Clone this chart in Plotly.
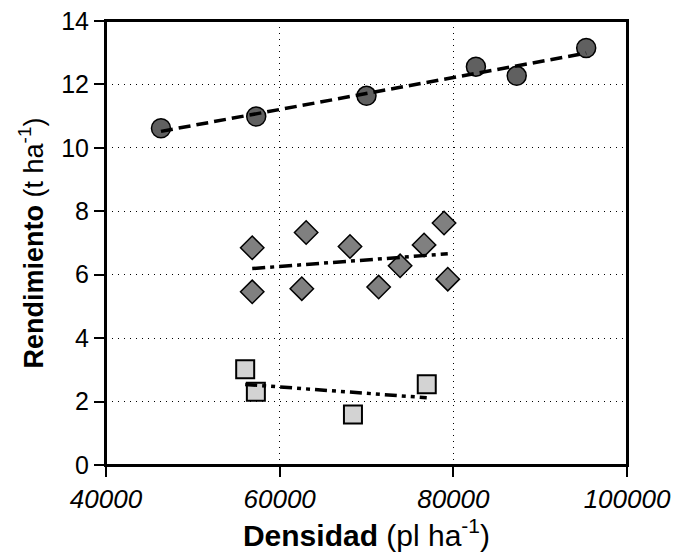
import numpy as np
import plotly.graph_objects as go

# Data
circ_x = [46330, 57300, 70000, 82600, 87300, 95300]
circ_y = [10.62, 10.99, 11.64, 12.56, 12.27, 13.15]

diam_x = [56840, 63050, 56840, 62550, 68100, 78930, 76630, 73870, 71400, 79360]
diam_y = [6.85, 7.33, 5.46, 5.56, 6.89, 7.63, 6.94, 6.28, 5.61, 5.86]

sq_x = [56030, 57260, 68440, 76940]
sq_y = [3.02, 2.31, 1.59, 2.55]

x_ticks = [40000, 60000, 80000, 100000]
y_ticks = [0, 2, 4, 6, 8, 10, 12, 14]

FONT = "Liberation Sans, Arial, sans-serif"

fig = go.Figure()

def markers(x, y, symbol, size, fill, lw):
    fig.add_trace(go.Scatter(
        x=x, y=y, mode="markers",
        marker=dict(symbol=symbol, size=size, color=fill,
                    line=dict(color="black", width=lw)),
        showlegend=False, hoverinfo="skip"))

def trend(x, y, dash):
    b, a = np.polyfit(x, y, 1)
    xs = np.array([min(x), max(x)])
    fig.add_trace(go.Scatter(
        x=xs, y=a + b * xs, mode="lines",
        line=dict(color="black", width=3.5, dash=dash),
        showlegend=False, hoverinfo="skip"))

markers(circ_x, circ_y, "circle", 19, "#606060", 1.5)
markers(diam_x, diam_y, "diamond", 18, "#808080", 1.5)
markers(sq_x, sq_y, "square", 18, "#d3d3d3", 2)

trend(circ_x, circ_y, "12px,6px")
trend(diam_x, diam_y, "13px,5px,4px,5px")
trend(sq_x, sq_y, "12px,5px,4px,5px,4px,5px")

axis_common = dict(
    showline=True, linecolor="black", linewidth=2, mirror=True,
    ticks="outside", ticklen=10, tickwidth=2, tickcolor="black",
    showgrid=True, gridcolor="black", gridwidth=1, griddash="1px,5px",
    zeroline=False, automargin=False, ticklabeloverflow="allow",
)

fig.update_xaxes(
    range=[40000, 100000], tickvals=x_ticks,
    ticktext=[str(v) for v in x_ticks],
    tickfont=dict(family=FONT, size=26, color="black", style="italic"),
    title=dict(text="<b>Densidad</b> (pl ha<sup>-1</sup>)",
               font=dict(family=FONT, size=30, color="black"), standoff=6),
    **axis_common)

fig.update_yaxes(
    range=[0, 14], tickvals=y_ticks,
    tickfont=dict(family=FONT, size=25, color="black"),
    title=dict(text="<b>Rendimiento</b> (t ha<sup>-1</sup>)",
               font=dict(family=FONT, size=27, color="black"), standoff=10),
    **axis_common)

fig.update_layout(
    width=678, height=557,
    margin=dict(l=106, r=51, t=21, b=92),
    plot_bgcolor="white", paper_bgcolor="white",
    showlegend=False,
    shapes=[dict(type="rect", xref="paper", yref="paper", x0=0, x1=1, y0=0, y1=1,
                 line=dict(color="black", width=2), layer="above")],
)

# remove the browser's default page margin so the figure sits at the top-left
fig.write_html("out.html", config={"displayModeBar": False},
               post_script="document.body.style.margin='0px';")
